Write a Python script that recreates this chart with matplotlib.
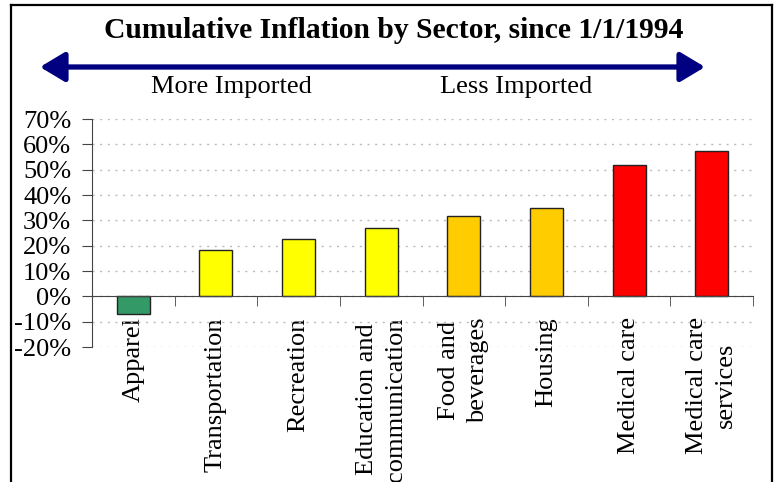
import matplotlib
matplotlib.use("Agg")
import matplotlib.pyplot as plt
from matplotlib.lines import Line2D
from matplotlib.ticker import FuncFormatter, MultipleLocator

categories = ["Apparel", "Transportation", "Recreation", "Education and\ncommunication",
              "Food and\nbeverages", "Housing", "Medical care", "Medical care\nservices"]
values = [-7.0, 18.3, 22.8, 26.8, 31.8, 35.0, 51.7, 57.3]
colors = ["#339966", "#FFFF00", "#FFFF00", "#FFFF00", "#FFCC00", "#FFCC00", "#FF0000", "#FF0000"]
title = "Cumulative Inflation by Sector, since 1/1/1994"
left_label = "More Imported"
right_label = "Less Imported"

plt.rcParams['font.family'] = ['Liberation Serif', 'DejaVu Serif']

W, H = 776, 482
fig = plt.figure(figsize=(W / 100, H / 100), dpi=100)
ax = fig.add_axes([92 / W, 1 - 347 / H, (753 - 92) / W, (347 - 119) / H])

x = list(range(len(categories)))
ax.bar(x, values, width=0.4, color=colors, edgecolor="#222222", linewidth=1.0, zorder=3)

ax.set_xlim(-0.5, len(categories) - 0.5)
ax.set_ylim(-20, 70)
ax.yaxis.set_major_locator(MultipleLocator(10))
ax.yaxis.set_major_formatter(FuncFormatter(lambda v, p: f"{int(round(v))}%"))
ax.grid(axis="y", linestyle=(0, (1.5, 4)), color="#BBBBBB", linewidth=1.0, zorder=0)

for s in ["top", "right"]:
    ax.spines[s].set_visible(False)
ax.spines["bottom"].set_position(("data", 0))
ax.spines["bottom"].set_color("#444444")
ax.spines["left"].set_color("#444444")
ax.spines["bottom"].set_zorder(4)

ax.set_xticks(x)
ax.set_xticklabels(categories, rotation=90, ha="center", va="top", ma="center", fontsize=19,
                   linespacing=1.42)
ax.set_xticks([i - 0.5 for i in range(len(categories) + 1)], minor=True)
ax.tick_params(axis="x", which="major", length=0, pad=15)
ax.tick_params(axis="x", which="minor", length=7, direction="out", color="#444444")
ax.tick_params(axis="y", length=7, color="#444444", labelsize=19, pad=8)

fig.text(394 / W, 1 - 30 / H, title, ha="center", va="center", fontsize=21.3, fontweight="bold")
fig.text(231 / W, 1 - 87 / H, left_label, ha="center", va="center", fontsize=19)
fig.text(516 / W, 1 - 87 / H, right_label, ha="center", va="center", fontsize=19)

fig.patches.append(matplotlib.patches.FancyArrowPatch(
    (40 / W, 1 - 67 / H), (705 / W, 1 - 67 / H), transform=fig.transFigure,
    arrowstyle="<|-|>,head_length=0.75,head_width=0.45", mutation_scale=20,
    color="#000080", linewidth=3.8, shrinkA=0, shrinkB=0))

bx0, bx1, by = 11 / W, 772 / W, 1 - 5 / H
for xs, ys in [([bx0, bx0], [0, by]), ([bx0, bx1], [by, by]), ([bx1, bx1], [by, 0])]:
    fig.add_artist(Line2D(xs, ys, transform=fig.transFigure, color="black", linewidth=1.6))

fig.savefig("out.png", dpi=100)
